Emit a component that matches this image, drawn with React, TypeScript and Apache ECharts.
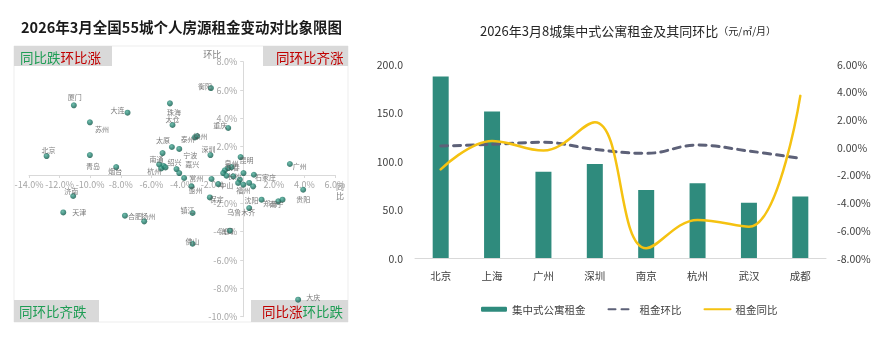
import React, { useEffect, useRef } from 'react';
import * as echarts from 'echarts';

const FONT = "'Noto Sans CJK SC', 'Noto Sans', sans-serif";

// ---------- Left: 55-city quadrant scatter ----------
const cityNames = ['北京','厦门','大连','苏州','青岛','烟台','济南','天津','合肥','扬州','珠海','太仓','太原','泰州','徐州','宁波','南通','南昌','南京','杭州','东莞','绍兴','嘉兴','常州','惠州','湖州','中山','保定','镇江','佛山','海口','衡阳','重庆','深圳','昆明','长春','温州','泉州','台州','长沙','洛阳','石家庄','西安','福州','汕头','唐山','成都','武汉','广州','贵阳','乌鲁木齐','沈阳','郑州','南宁','大庆'];
// 同比 (%), x axis
const yoyValues = [-12.85,-11.07,-7.56,-10.02,-10.02,-8.30,-11.11,-11.76,-7.73,-6.47,-4.79,-4.62,-4.66,-3.16,-3.01,-4.18,-5.27,-5.49,-5.21,-5.36,-5.08,-4.36,-4.18,-3.86,-3.38,-2.07,-1.63,-2.18,-3.31,-3.31,-0.87,-2.11,-0.98,-2.14,-0.17,-1.20,-0.98,-0.76,-1.31,-1.09,0.02,0.70,-0.22,-0.33,0.01,0.39,0.65,-0.65,3.05,3.92,0.39,1.20,2.29,2.57,3.59];
// 环比 (%), y axis
const momValues = [1.34,4.92,4.40,3.72,1.41,0.56,-1.48,-2.64,-2.87,-3.27,5.06,3.53,1.98,2.66,2.75,1.84,1.55,0.75,0.64,0.47,0.54,0.42,0.14,-0.21,-0.80,-0.28,-0.64,-1.58,-2.68,-4.85,-3.93,6.14,3.32,1.41,1.27,0.33,0.49,0.56,0.14,-0.05,0.14,0.02,-0.33,-0.56,-0.68,-0.56,-0.80,-0.09,0.78,-1.04,-2.33,-1.74,-1.86,-1.74,-8.80];
const xRange = [-14, 6];
const yRange = [-10, 8];

// label placement style (position, distance, dx, dy)
const labelPlacement: Record<string, [string, number, number, number]> = {
  北京: ['top', 0, 2, 0], 厦门: ['top', 2, 1, 0], 大连: ['left', 0, 0, -3], 苏州: ['right', 2, 0, 7],
  青岛: ['bottom', 4, 3, 0], 烟台: ['bottom', -3, -1, 0], 济南: ['top', -1, -2, 0], 天津: ['right', 6, 0, 0],
  合肥: ['right', 0, 0, 0], 扬州: ['top', -1, 4, 0], 珠海: ['bottom', 2, 4, 0], 太仓: ['top', 0, 0, 0],
  太原: ['top', 0, -9, 0], 泰州: ['left', -3, 0, 2], 徐州: ['right', -7, 0, 0], 宁波: ['right', 1, 0, 6],
  南通: ['bottom', -1, -6, 0], 绍兴: ['top', 1, -2, 0], 嘉兴: ['right', 3, 0, -9], 杭州: ['bottom', -4, -7, 0],
  常州: ['right', 2, 0, 0], 惠州: ['bottom', -3, 4, 0], 中山: ['right', -2, 0, 1], 保定: ['right', -3, 0, 2],
  镇江: ['top', -3, -5, 0], 佛山: ['top', -4, 0, 0], 海口: ['right', -13, 0, 0], 衡阳: ['left', -4, 0, -2],
  重庆: ['top', -3, -8, 0], 深圳: ['top', 0, -2, 0], 昆明: ['right', -4, 0, 3], 长春: ['right', -2, 0, -3],
  泉州: ['top', -2, 0, 0], 长沙: ['right', -2, 0, 0], 石家庄: ['right', -2, 0, 2], 福州: ['bottom', 1, 5, 0],
  广州: ['right', 0, 0, 2], 贵阳: ['bottom', 3, 0, 0], 乌鲁木齐: ['bottom', -3, -8, 0], 沈阳: ['left', 0, 0, 0],
  郑州: ['left', -2, 0, 2], 南宁: ['left', -4, 0, 4], 大庆: ['right', 5, 0, -3],
};

// ---------- Right: 8-city apartment rent ----------
const aptCities = ['北京', '上海', '广州', '深圳', '南京', '杭州', '武汉', '成都'];
const aptRent = [187, 151, 89, 97, 70, 77, 57, 63.5];
const aptMom = [0.08, 0.2, 0.35, -0.16, -0.45, 0.15, -0.28, -0.81];
const aptYoy = [-1.6, 0.45, -0.25, 1.8, -7.3, -5.25, -5.75, 3.7];

const GREEN = '#1f9d55';
const RED = '#c00000';

export default function App() {
  const ref = useRef<HTMLDivElement>(null);
  useEffect(() => {
    if (!ref.current) return;
    const chart = echarts.init(ref.current, undefined, { renderer: 'svg' });

    const LG = { left: 29, top: 61.7, width: 306, height: 255 };
    // pixel positions of the zero lines
    const zeroY = LG.top + LG.height * (yRange[1] - 0) / (yRange[1] - yRange[0]);
    const zeroX = LG.left + LG.width * (0 - xRange[0]) / (xRange[1] - xRange[0]);
    const xAxisOffset = -(LG.top + LG.height - zeroY);

    const dotColor = new echarts.graphic.RadialGradient(0.4, 0.35, 0.7, [
      { offset: 0, color: '#4fae98' },
      { offset: 0.55, color: '#1f7a6a' },
      { offset: 1, color: '#11503f' },
    ]);

    const scatterData = cityNames.map((name, i) => {
      const p = labelPlacement[name];
      return {
        name,
        value: [yoyValues[i], momValues[i]],
        label: p
          ? { show: true, position: p[0], distance: p[1], offset: [p[2], p[3]] }
          : { show: false },
      };
    });

    const pctLabel = (d: number) => (v: number) => (v === 0 ? '' : v.toFixed(d) + '%');
    const axisText = { fontSize: 9, fill: '#808080', fontFamily: FONT };

    const option = {
      animation: false,
      textStyle: { fontFamily: FONT },
      graphic: [
        { type: 'rect', z: -10, shape: { x: 14, y: 46, width: 334, height: 276 }, style: { fill: '#ffffff', stroke: '#ededed', lineWidth: 1 } },
        { type: 'rect', shape: { x: 14, y: 46, width: 98, height: 20 }, style: { fill: '#d9d9d9' } },
        { type: 'rect', shape: { x: 263, y: 46, width: 85, height: 20 }, style: { fill: '#d9d9d9' } },
        { type: 'rect', shape: { x: 14, y: 300, width: 85, height: 22 }, style: { fill: '#d9d9d9' } },
        { type: 'rect', shape: { x: 251, y: 300, width: 97, height: 22 }, style: { fill: '#d9d9d9' } },
        {
          type: 'text', style: {
            text: '{g|同比跌}{r|环比涨}', x: 20, y: 56.5, align: 'left', verticalAlign: 'middle', textAlign: 'left', textVerticalAlign: 'middle',
            rich: { g: { fill: GREEN, fontSize: 13.5, fontFamily: FONT }, r: { fill: RED, fontSize: 13.5, fontFamily: FONT } },
          },
        },
        {
          type: 'text', style: {
            text: '同环比齐涨', x: 276, y: 56.5, fill: RED, fontSize: 13.5, fontFamily: FONT, align: 'left', verticalAlign: 'middle', textAlign: 'left', textVerticalAlign: 'middle',
          },
        },
        {
          type: 'text', style: {
            text: '同环比齐跌', x: 19, y: 311, fill: GREEN, fontSize: 13.5, fontFamily: FONT, align: 'left', verticalAlign: 'middle', textAlign: 'left', textVerticalAlign: 'middle',
          },
        },
        {
          type: 'text', style: {
            text: '{r|同比涨}{g|环比跌}', x: 262, y: 311, align: 'left', verticalAlign: 'middle', textAlign: 'left', textVerticalAlign: 'middle',
            rich: { g: { fill: GREEN, fontSize: 13.5, fontFamily: FONT }, r: { fill: RED, fontSize: 13.5, fontFamily: FONT } },
          },
        },
        {
          type: 'text', style: {
            text: '2026年3月全国55城个人房源租金变动对比象限图', x: 181.5, y: 26.5, fill: '#1a1a1a', fontSize: 14.5, fontWeight: 'bold', fontFamily: FONT,
            align: 'center', verticalAlign: 'middle', textAlign: 'center', textVerticalAlign: 'middle',
          },
        },
        {
          type: 'text', style: {
            text: '{a|2026年3月8城集中式公寓租金及其同环比}{b|（元/㎡/月）}', x: 628, y: 30,
            align: 'center', verticalAlign: 'middle', textAlign: 'center', textVerticalAlign: 'middle',
            rich: { a: { fill: '#262626', fontSize: 13, fontFamily: FONT }, b: { fill: '#262626', fontSize: 10, fontFamily: FONT } },
          },
        },
        // axis names of the quadrant chart
        {
          type: 'text', style: {
            ...axisText, text: '环比', x: zeroX - 22, y: LG.top - 7,
            align: 'right', verticalAlign: 'middle', textAlign: 'right', textVerticalAlign: 'middle',
          },
        },
        {
          type: 'text', style: {
            ...axisText, fontSize: 8, lineHeight: 9, text: '同\n比', x: LG.left + LG.width + 5, y: zeroY + 7,
            align: 'center', verticalAlign: 'top', textAlign: 'center', textVerticalAlign: 'top',
          },
        },
      ],
      grid: [
        { left: LG.left, top: LG.top, width: LG.width, height: LG.height },
        { left: 415, top: 64, right: 58, height: 194 },
        // helper grid whose left edge sits on 同比 = 0, carrying the 环比 axis
        { left: zeroX, top: LG.top, width: LG.left + LG.width - zeroX, height: LG.height },
      ],
      xAxis: [
        {
          type: 'value', gridIndex: 0, min: xRange[0], max: xRange[1], interval: 2,
          position: 'bottom', offset: xAxisOffset,
          axisLine: { onZero: false, lineStyle: { color: '#d9d9d9' } },
          axisTick: { show: true, length: 3, lineStyle: { color: '#d9d9d9' } },
          axisLabel: { fontSize: 9, color: '#a6a6a6', margin: 5, formatter: pctLabel(1) },
          splitLine: { show: false },
        },
        {
          type: 'category', gridIndex: 1, data: aptCities,
          axisLine: { lineStyle: { color: '#d9d9d9' } },
          axisTick: { show: false },
          axisLabel: { fontSize: 10.5, color: '#404040', margin: 12 },
        },
        { type: 'value', gridIndex: 2, min: 0, max: xRange[1], show: false },
      ],
      yAxis: [
        {
          type: 'value', gridIndex: 0, min: yRange[0], max: yRange[1], interval: 2, show: false,
        },
        {
          type: 'value', gridIndex: 1, min: 0, max: 200, interval: 50, position: 'left',
          axisLine: { show: false }, axisTick: { show: false }, splitLine: { show: false },
          axisLabel: { fontSize: 10.5, color: '#404040', margin: 12, formatter: (v: number) => v.toFixed(1) },
        },
        {
          type: 'value', gridIndex: 1, min: -8, max: 6, interval: 2, position: 'right',
          axisLine: { show: false }, axisTick: { show: false }, splitLine: { show: false },
          axisLabel: { fontSize: 10.5, color: '#404040', margin: 11, formatter: (v: number) => v.toFixed(2) + '%' },
        },
        {
          type: 'value', gridIndex: 2, min: yRange[0], max: yRange[1], interval: 2, position: 'left',
          axisLine: { show: true, onZero: false, lineStyle: { color: '#d9d9d9' } },
          axisTick: { show: true, length: 3, lineStyle: { color: '#d9d9d9' } },
          axisLabel: { fontSize: 9, color: '#a6a6a6', margin: 6, formatter: pctLabel(1) },
          splitLine: { show: false },
        },
      ],
      legend: {
        data: [
          { name: '集中式公寓租金' },
          { name: '租金环比', itemStyle: { opacity: 0 } },
          { name: '租金同比', itemStyle: { opacity: 0 } },
        ],
        left: 476, top: 299, itemWidth: 26, itemHeight: 5, itemGap: 22,
        textStyle: { fontSize: 10.5, color: '#404040', fontFamily: FONT },
      },
      series: [
        {
          type: 'scatter', xAxisIndex: 0, yAxisIndex: 0, data: scatterData, symbolSize: 6,
          itemStyle: { color: dotColor },
          label: { show: false, formatter: '{b}', fontSize: 7, color: '#595959', fontFamily: FONT },
        },
        {
          type: 'bar', name: '集中式公寓租金', xAxisIndex: 1, yAxisIndex: 1, data: aptRent, barWidth: 16,
          itemStyle: { color: '#2f8b7d' },
        },
        {
          type: 'line', name: '租金环比', xAxisIndex: 1, yAxisIndex: 2, data: aptMom, smooth: 0.4,
          symbol: 'none', showSymbol: false,
          lineStyle: { color: '#5d6178', width: 3, type: [7, 6], cap: 'round' },
          itemStyle: { color: '#5d6178' },
        },
        {
          type: 'line', name: '租金同比', xAxisIndex: 1, yAxisIndex: 2, data: aptYoy, smooth: 0.4,
          symbol: 'none', showSymbol: false,
          lineStyle: { color: '#f5c211', width: 2.5, cap: 'round' },
          itemStyle: { color: '#f5c211' },
        },
      ],
    };
    chart.setOption(option as any);
    return () => chart.dispose();
  }, []);

  return <div ref={ref} style={{ position: 'fixed', left: 0, top: 0, width: 884, height: 341 }} />;
}
